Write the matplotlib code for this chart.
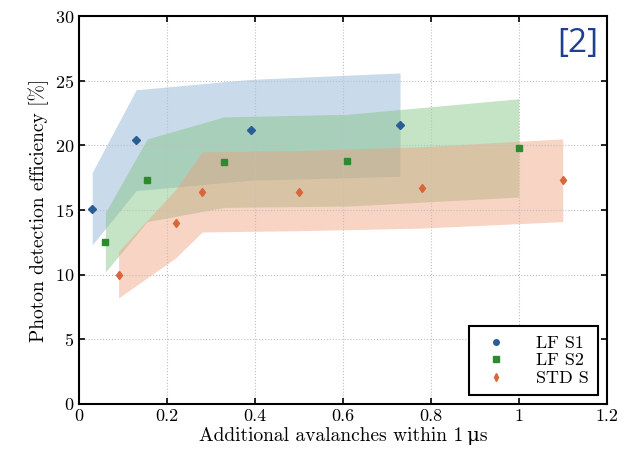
import matplotlib
matplotlib.use("Agg")
import matplotlib.pyplot as plt
import numpy as np

plt.rcParams['font.family'] = ['cmr10', 'DejaVu Serif']
plt.rcParams['axes.formatter.use_mathtext'] = True
plt.rcParams['mathtext.fontset'] = 'cm'

# LF S1
s1_x = [0.03, 0.13, 0.39, 0.73]
s1_y = [15.1, 20.4, 21.2, 21.6]
s1_lo = [12.3, 16.5, 17.3, 17.6]
s1_hi = [17.9, 24.3, 25.1, 25.6]

# LF S2
s2_x = [0.06, 0.155, 0.33, 0.61, 1.0]
s2_y = [12.5, 17.3, 18.7, 18.8, 19.8]
s2_lo = [10.2, 14.1, 15.2, 15.3, 16.0]
s2_hi = [14.8, 20.5, 22.2, 22.4, 23.6]

# STD S
st_x = [0.09, 0.22, 0.28, 0.5, 0.78, 1.1]
st_y = [10.0, 14.0, 16.4, 16.4, 16.7, 17.3]
st_lo = [8.2, 11.3, 13.3, 13.4, 13.6, 14.1]
st_hi = [11.8, 16.6, 19.5, 19.6, 19.9, 20.5]

fig = plt.figure(figsize=(6.29, 4.58), dpi=100)
ax = fig.add_axes([0.1256, 0.118, 0.839, 0.847])

ax.fill_between(s1_x, s1_lo, s1_hi, color='#7aa3cf', alpha=0.4, lw=0)
ax.fill_between(s2_x, s2_lo, s2_hi, color='#7fc27f', alpha=0.45, lw=0)
ax.fill_between(st_x, st_lo, st_hi, color='#f0a07e', alpha=0.45, lw=0)

ax.plot(s1_x, s1_y, 'D', color='#2a5d96', ms=4.5, ls='none')
ax.plot(s2_x, s2_y, 's', color='#2f8a2f', ms=4.5, ls='none')
ax.plot(st_x, st_y, 'd', color='#d8663a', ms=4.5, ls='none')
# legend handles (circle / square / small diamond as in the original)
ax.plot([], [], 'o', color='#2a5d96', ms=4, label='LF S1')
ax.plot([], [], 's', color='#2f8a2f', ms=4, label='LF S2')
ax.plot([], [], 'd', color='#d8663a', ms=4, label='STD S')

ax.set_xlim(0, 1.2)
ax.set_ylim(0, 30)
ax.set_xticks([0, 0.2, 0.4, 0.6, 0.8, 1.0, 1.2])
ax.set_xticklabels(['0', '0.2', '0.4', '0.6', '0.8', '1', '1.2'])
ax.set_yticks([0, 5, 10, 15, 20, 25, 30])
ax.tick_params(direction='in', top=True, right=True, labelsize=13, width=1.2, length=4)
ax.grid(True, ls=':', color='#c0c0c0', lw=0.8)
for sp in ax.spines.values():
    sp.set_linewidth(1.5)

ax.set_xlabel('Additional avalanches within 1\u2009\u03bcs', fontsize=14, labelpad=2)
ax.set_ylabel('Photon detection efficiency [%]', fontsize=14, labelpad=4)

leg = ax.legend(loc='lower right', fontsize=13, fancybox=False, edgecolor='black',
                framealpha=1, handletextpad=1.2, borderpad=0.5, labelspacing=0.1)
leg.get_frame().set_linewidth(1.5)

fig.text(0.919, 0.905, '[2]', fontsize=24, color='#1f3f8f', family='Open Sans',
         ha='center', va='center')

fig.savefig('out.png', dpi=100)
